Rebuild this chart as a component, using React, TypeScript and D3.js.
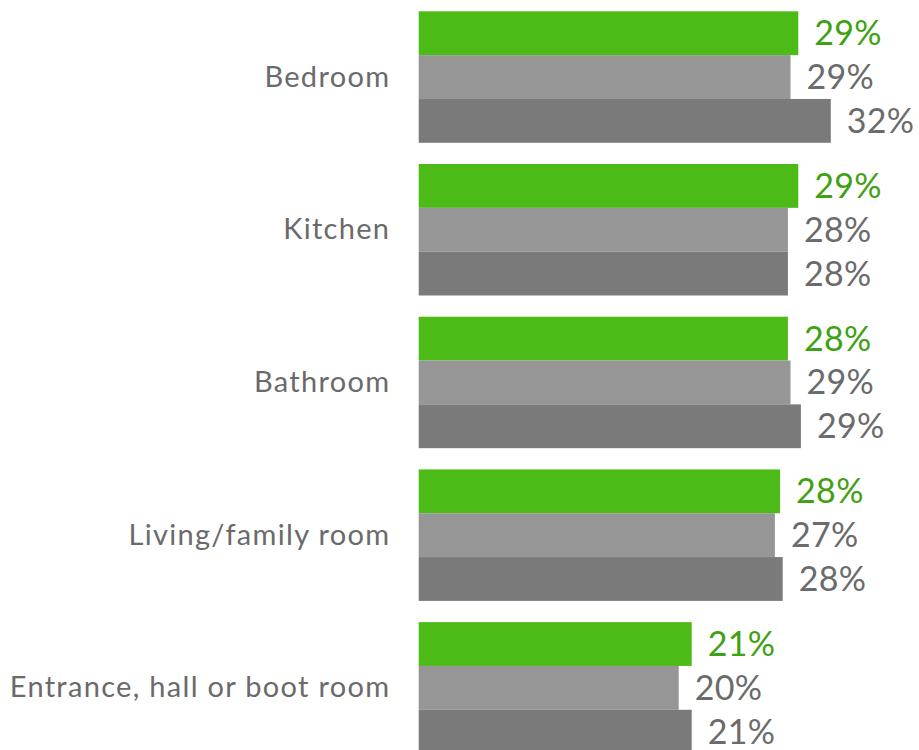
import React from "react";
import * as d3 from "d3";

const categories = ["Bedroom", "Kitchen", "Bathroom", "Living/family room", "Entrance, hall or boot room"];
const seriesNames = ["s1", "s2", "s3"];
const series1 = [29.2, 29.2, 28.4, 27.8, 21.0];
const series2 = [28.6, 28.4, 28.6, 27.4, 20.0];
const series3 = [31.7, 28.4, 29.4, 28.0, 21.0];
const seriesValues = [series1, series2, series3];

const barColors = ["#4dbb17", "#969696", "#7a7a7a"];
const labelColors = ["#3ea111", "#6b6b6b", "#6b6b6b"];

const W = 919;
const H = 750;
const FONT = "Lato, 'Open Sans', sans-serif";

export default function App() {
  const x = d3.scaleLinear().domain([0, 32]).range([418.7, 418.7 + 32 * 13]);
  const y = d3
    .scaleBand<string>()
    .domain(categories)
    .range([11.3, 753.6])
    .paddingInner(0.139)
    .paddingOuter(0);
  const inner = d3.scaleBand<string>().domain(seriesNames).range([0, y.bandwidth()]).padding(0);

  return (
    <svg
      width={W}
      height={H}
      style={{ position: "absolute", left: 0, top: 0, background: "#fff" }}
      fontFamily={FONT}
    >
      <rect width={W} height={H} fill="#fff" />
      {categories.map((cat, ci) => {
        const gy = y(cat) as number;
        return (
          <g key={cat}>
            <text
              x={390.3}
              y={gy + y.bandwidth() / 2 - 2}
              textAnchor="end"
              dominantBaseline="central"
              fontSize={29}
              letterSpacing={1.3}
              fill="#6a6a6a"
            >
              {cat}
            </text>
            {seriesNames.map((s, si) => {
              const v = seriesValues[si][ci];
              const by = gy + (inner(s) as number);
              return (
                <g key={s}>
                  <rect
                    x={x(0)}
                    y={by}
                    width={x(v) - x(0)}
                    height={inner.bandwidth()}
                    fill={barColors[si]}
                  />
                  <text
                    x={x(v) + 16}
                    y={by + inner.bandwidth() / 2 - 1.5}
                    dominantBaseline="central"
                    fontSize={34}
                    letterSpacing={0.3}
                    fill={labelColors[si]}
                  >
                    {Math.round(v)}%
                  </text>
                </g>
              );
            })}
          </g>
        );
      })}
    </svg>
  );
}
